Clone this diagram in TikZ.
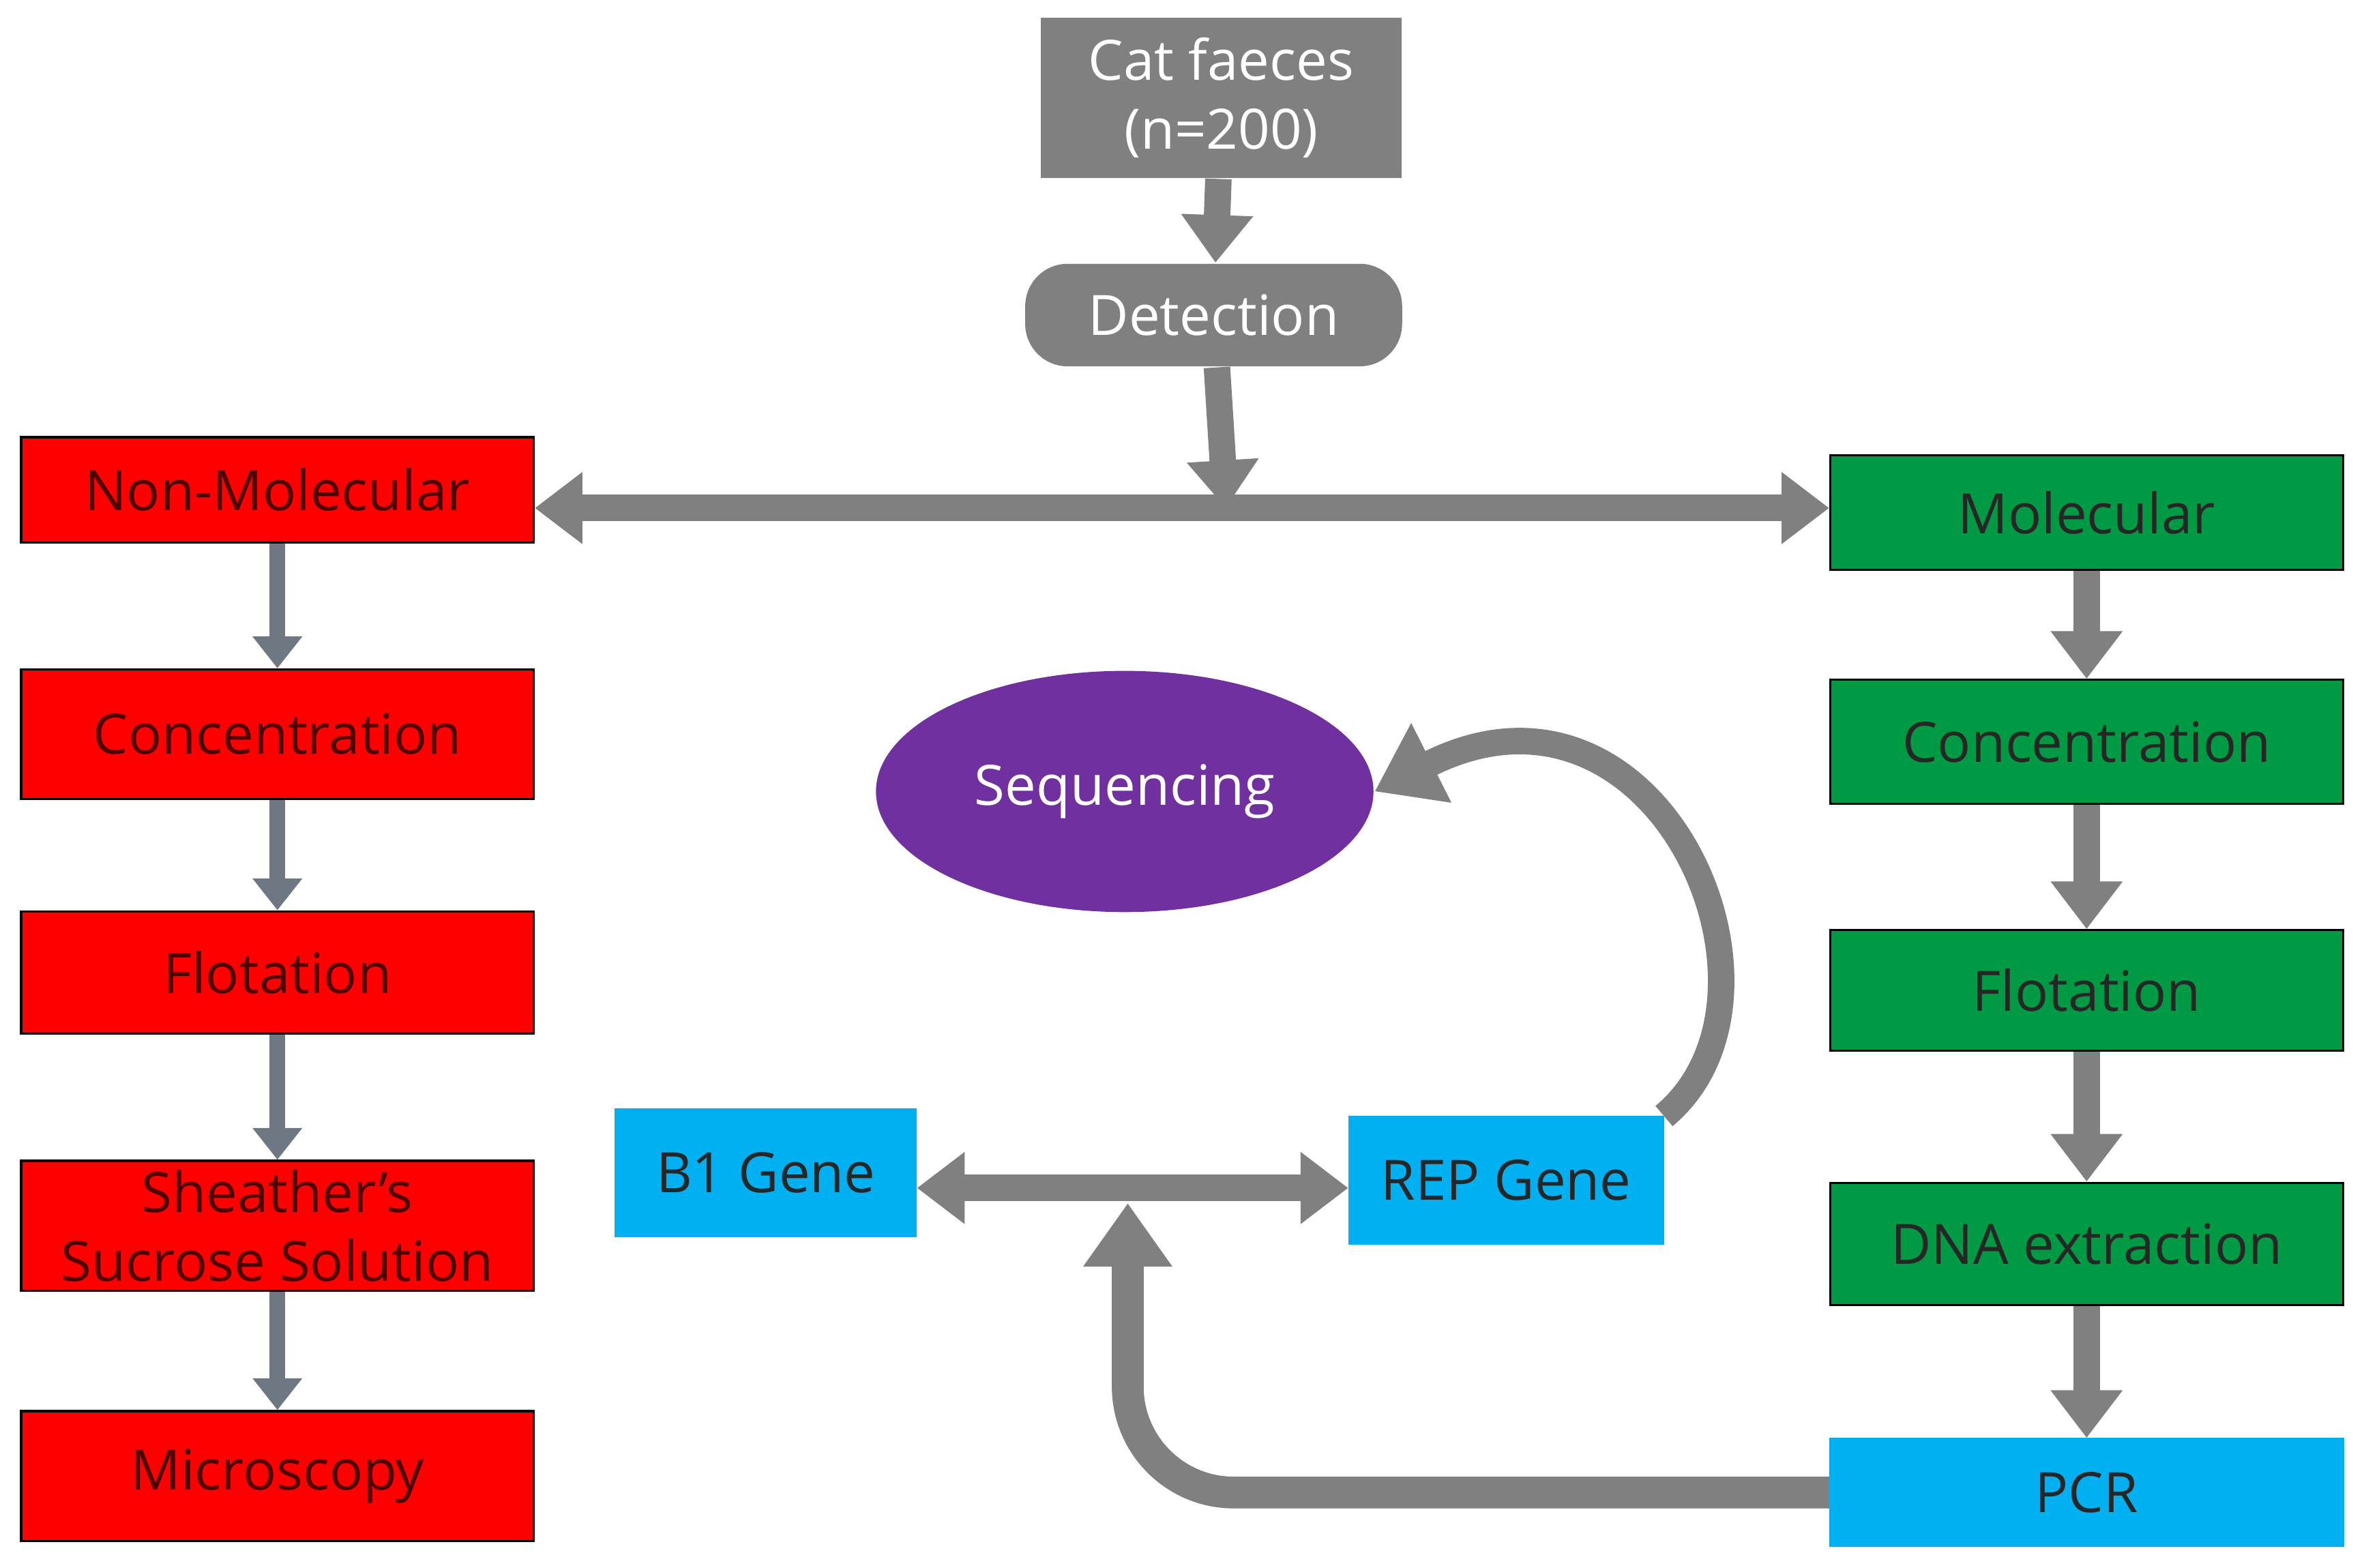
\documentclass[tikz,border=0pt]{standalone}
\usepackage{fontspec}
\setmainfont{Open Sans}
\usetikzlibrary{positioning,arrows.meta,shapes.geometric}
\definecolor{boxgray}{RGB}{128,128,128}
\definecolor{boxred}{RGB}{255,0,0}
\definecolor{boxgreen}{RGB}{0,153,68}
\definecolor{boxcyan}{RGB}{0,176,240}
\definecolor{seqpurple}{RGB}{112,48,160}
\definecolor{arrgray}{RGB}{128,128,128}
\definecolor{arrslate}{RGB}{110,120,130}
\tikzset{
  stagebox/.style={draw=black,thin,minimum width=3.4cm,font=\fontsize{10.5}{13}\selectfont,align=center,inner sep=1pt},
  redbox/.style={stagebox,fill=boxred,text=black!70!red},
  greenbox/.style={stagebox,fill=boxgreen,text=black!85},
  cyanbox/.style={stagebox,fill=boxcyan,draw=boxcyan,text=black!85},
  graybox/.style={fill=boxgray,text=white,font=\fontsize{10.5}{13}\selectfont,align=center},
  bigarrow/.style={draw=arrgray,line width=5pt,-{Triangle[length=9pt,width=13pt]}},
  smallarrow/.style={draw=arrslate,line width=3pt,-{Triangle[length=6pt,width=9pt]}}
}
\begin{document}
\begin{tikzpicture}
\useasboundingbox (0,0) rectangle (15.68,10.40);

% top
\node[graybox,minimum width=2.39cm,minimum height=1.06cm] (cat) at (8.10,9.75) {Cat faeces\\(n=200)};
\node[graybox,minimum width=2.5cm,minimum height=0.68cm,rounded corners=8pt] (det) at (8.05,8.31) {Detection};
\coordinate (hub) at (8.13,7.03);

% left column
\node[redbox,minimum height=0.70cm] (nonmol) at (1.84,7.15) {Non-Molecular};
\node[redbox,minimum height=0.86cm] (concL) at (1.84,5.53) {Concentration};
\node[redbox,minimum height=0.81cm] (flotL) at (1.84,3.95) {Flotation};
\node[redbox,minimum height=0.86cm] (sheath) at (1.84,2.27) {Sheather’s\\Sucrose Solution};
\node[redbox,minimum height=0.86cm] (micro) at (1.84,0.61) {Microscopy};

% right column
\node[greenbox,minimum height=0.76cm] (mol) at (13.84,7.00) {Molecular};
\node[greenbox,minimum height=0.82cm] (concR) at (13.84,5.48) {Concentration};
\node[greenbox,minimum height=0.80cm] (flotR) at (13.84,3.83) {Flotation};
\node[greenbox,minimum height=0.81cm] (dna) at (13.84,2.15) {DNA extraction};
\node[cyanbox,minimum height=0.71cm] (pcr) at (13.84,0.50) {PCR};

% middle
\node[cyanbox,minimum width=1.99cm,minimum height=0.84cm] (b1) at (5.08,2.62) {B1 Gene};
\node[cyanbox,minimum width=2.08cm,minimum height=0.84cm] (rep) at (9.99,2.57) {REP Gene};
\node[ellipse,fill=seqpurple,text=white,minimum width=3.3cm,minimum height=1.6cm,font=\fontsize{10.5}{13}\selectfont] (seq) at (7.46,5.15) {Sequencing};
\coordinate (pcrup) at (7.48,2.42);

% arrows
\draw[bigarrow] (cat) -- (det);
\draw[bigarrow] (det) -- (hub);
\draw[bigarrow,{Triangle[length=9pt,width=13pt]}-{Triangle[length=9pt,width=13pt]}] (nonmol.east |- hub) -- (mol.west |- hub);
\foreach \a/\b in {nonmol/concL,concL/flotL,flotL/sheath,sheath/micro}
  \draw[smallarrow] (\a) -- (\b);
\foreach \a/\b in {mol/concR,concR/flotR,flotR/dna,dna/pcr}
  \draw[bigarrow] (\a) -- (\b);
\draw[bigarrow,{Triangle[length=9pt,width=13pt]}-{Triangle[length=9pt,width=13pt]}] (b1.east |- 0,2.52) -- (rep.west |- 0,2.52);
\draw[draw=arrgray,line width=6pt,rounded corners=20pt,-{Triangle[length=12pt,width=16pt]}] (pcr.west) -- (pcr.west -| pcrup) -- (pcrup);
\draw[draw=arrgray,line width=5pt,-{Triangle[length=12pt,width=16pt]}] (rep.north east) .. controls (12.0,3.8) and (11.0,6.1) .. (seq.east);
\end{tikzpicture}
\end{document}
